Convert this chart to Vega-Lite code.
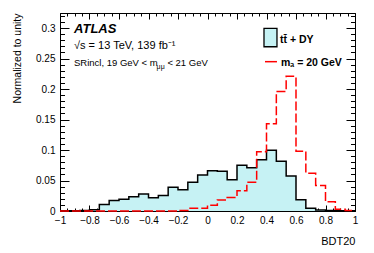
{
  "$schema": "https://vega.github.io/schema/vega-lite/v6.json",
  "width": 295,
  "height": 198,
  "autosize": {"type": "none"},
  "padding": {"left": 60, "top": 13, "right": 19, "bottom": 42},
  "background": "white",
  "layer": [
    {
      "data": {"name": "hist"},
      "mark": {"type": "area", "interpolate": "step-after", "fill": "#c6f2f4"},
      "encoding": {
        "x": {"field": "x", "type": "quantitative",
          "scale": {"domain": [-1, 1], "nice": false, "zero": false},
          "axis": {"orient": "bottom", "values": [-1,-0.8,-0.6,-0.4,-0.2,0,0.2,0.4,0.6,0.8,1], "format": "~g", "tickSize": -6, "labelPadding": 10, "title": "BDT20", "titleAnchor": "end", "titleAlign": "right", "titleX": 295, "titleY": 33, "titleBaseline": "alphabetic"}},
        "y": {"field": "b", "type": "quantitative",
          "scale": {"domain": [0, 0.3246], "nice": false, "zero": true},
          "axis": {"orient": "left", "values": [0,0.05,0.1,0.15,0.2,0.25,0.3], "format": "~g", "tickSize": -9, "labelPadding": 14, "title": "Normalized to unity", "titleAnchor": "end", "titleAlign": "right", "titleAngle": -90, "titleX": -40, "titleY": 0, "titleBaseline": "alphabetic", "titleFontSize": 10.5}}
      }
    },
    {
      "data": {"name": "hist"},
      "mark": {"type": "line", "interpolate": "step-after", "stroke": "black", "strokeWidth": 1.5},
      "encoding": {
        "x": {"field": "x", "type": "quantitative",
          "scale": {"domain": [-1, 1], "nice": false, "zero": false},
          "axis": {"orient": "bottom", "values": [-1,-0.95,-0.9,-0.85,-0.8,-0.75,-0.7,-0.65,-0.6,-0.55,-0.5,-0.45,-0.4,-0.35,-0.3,-0.25,-0.2,-0.15,-0.1,-0.05,0,0.05,0.1,0.15,0.2,0.25,0.3,0.35,0.4,0.45,0.5,0.55,0.6,0.65,0.7,0.75,0.8,0.85,0.9,0.95,1], "tickSize": -3, "labels": false, "title": null}},
        "y": {"field": "b", "type": "quantitative",
          "scale": {"domain": [0, 0.3246], "nice": false, "zero": true},
          "axis": {"orient": "left", "values": [0,0.01,0.02,0.03,0.04,0.05,0.06,0.07,0.08,0.09,0.1,0.11,0.12,0.13,0.14,0.15,0.16,0.17,0.18,0.19,0.2,0.21,0.22,0.23,0.24,0.25,0.26,0.27,0.28,0.29,0.3,0.31,0.32], "tickSize": -4.5, "labels": false, "title": null}}
      }
    },
    {
      "data": {"name": "hist"},
      "mark": {"type": "line", "interpolate": "step-after", "stroke": "#ff0000", "strokeWidth": 1.5, "strokeDash": [9, 3]},
      "encoding": {
        "x": {"field": "x", "type": "quantitative",
          "scale": {"domain": [-1, 1], "nice": false, "zero": false},
          "axis": {"orient": "top", "values": [-1,-0.8,-0.6,-0.4,-0.2,0,0.2,0.4,0.6,0.8,1], "tickSize": -6, "labels": false, "title": null}},
        "y": {"field": "s", "type": "quantitative",
          "scale": {"domain": [0, 0.3246], "nice": false, "zero": true},
          "axis": {"orient": "right", "values": [0,0.05,0.1,0.15,0.2,0.25,0.3], "tickSize": -9, "labels": false, "title": null}}
      }
    },
    {
      "data": {"values": [{}]},
      "mark": {"type": "rect", "fill": "#c6f2f4", "stroke": "black", "strokeWidth": 1.3},
      "encoding": {
        "x": {"datum": 0.383, "type": "quantitative",
          "scale": {"domain": [-1, 1], "nice": false, "zero": false},
          "axis": {"orient": "top", "values": [-1,-0.95,-0.9,-0.85,-0.8,-0.75,-0.7,-0.65,-0.6,-0.55,-0.5,-0.45,-0.4,-0.35,-0.3,-0.25,-0.2,-0.15,-0.1,-0.05,0,0.05,0.1,0.15,0.2,0.25,0.3,0.35,0.4,0.45,0.5,0.55,0.6,0.65,0.7,0.75,0.8,0.85,0.9,0.95,1], "tickSize": -3, "labels": false, "title": null}},
        "x2": {"datum": 0.471},
        "y": {"datum": 0.2995, "type": "quantitative",
          "scale": {"domain": [0, 0.3246], "nice": false, "zero": true},
          "axis": {"orient": "right", "values": [0,0.01,0.02,0.03,0.04,0.05,0.06,0.07,0.08,0.09,0.1,0.11,0.12,0.13,0.14,0.15,0.16,0.17,0.18,0.19,0.2,0.21,0.22,0.23,0.24,0.25,0.26,0.27,0.28,0.29,0.3,0.31,0.32], "tickSize": -4.5, "labels": false, "title": null}},
        "y2": {"datum": 0.2693}
      }
    },
    {
      "data": {"values": [{}]},
      "mark": {"type": "rule", "stroke": "#ff0000", "strokeWidth": 1.5},
      "encoding": {
        "x": {"datum": 0.39, "type": "quantitative", "axis": null},
        "x2": {"datum": 0.471},
        "y": {"datum": 0.2448, "type": "quantitative", "axis": null}
      }
    },
    {
      "data": {"values": [{}]},
      "mark": {"type": "text", "text": "tt̄ + DY", "fontWeight": "bold", "fontSize": 10.5, "align": "left", "baseline": "alphabetic", "font": "Liberation Sans"},
      "encoding": {
        "x": {"datum": 0.4915, "type": "quantitative", "axis": null},
        "y": {"datum": 0.2754, "type": "quantitative", "axis": null}
      }
    },
    {
      "data": {"values": [{}]},
      "mark": {"type": "text", "text": "mₐ = 20 GeV", "fontWeight": "bold", "fontSize": 10.5, "align": "left", "baseline": "alphabetic", "font": "Liberation Sans"},
      "encoding": {
        "x": {"datum": 0.498, "type": "quantitative", "axis": null},
        "y": {"datum": 0.2385, "type": "quantitative", "axis": null}
      }
    },
    {
      "data": {"values": [{}]},
      "mark": {"type": "text", "text": "ATLAS", "fontWeight": "bold", "fontStyle": "italic", "fontSize": 13, "align": "left", "baseline": "alphabetic", "font": "Liberation Sans"},
      "encoding": {
        "x": {"datum": -0.905, "type": "quantitative", "axis": null},
        "y": {"datum": 0.2918, "type": "quantitative", "axis": null}
      }
    },
    {
      "data": {"values": [{}]},
      "mark": {"type": "text", "text": "√s = 13 TeV, 139 fb⁻¹", "fontSize": 11, "align": "left", "baseline": "alphabetic", "font": "Liberation Sans"},
      "encoding": {
        "x": {"datum": -0.905, "type": "quantitative", "axis": null},
        "y": {"datum": 0.2656, "type": "quantitative", "axis": null}
      }
    },
    {
      "data": {"values": [{}]},
      "mark": {"type": "text", "text": "SRincl, 19 GeV < m", "fontSize": 9.5, "align": "left", "baseline": "alphabetic", "font": "Liberation Sans"},
      "encoding": {
        "x": {"datum": -0.905, "type": "quantitative", "axis": null},
        "y": {"datum": 0.2369, "type": "quantitative", "axis": null}
      }
    },
    {
      "data": {"values": [{}]},
      "mark": {"type": "text", "text": "μμ", "fontSize": 7, "align": "left", "baseline": "alphabetic", "font": "Liberation Sans"},
      "encoding": {
        "x": {"datum": -0.345, "type": "quantitative", "axis": null},
        "y": {"datum": 0.2335, "type": "quantitative", "axis": null}
      }
    },
    {
      "data": {"values": [{}]},
      "mark": {"type": "text", "text": "< 21 GeV", "fontSize": 9.5, "align": "left", "baseline": "alphabetic", "font": "Liberation Sans"},
      "encoding": {
        "x": {"datum": -0.272, "type": "quantitative", "axis": null},
        "y": {"datum": 0.2369, "type": "quantitative", "axis": null}
      }
    }
  ],
  "datasets": {
    "hist": [
      {"x": -1, "b": 0.0003, "s": 0},
      {"x": -0.9333, "b": 0.0005, "s": 0},
      {"x": -0.8667, "b": 0.001, "s": 0},
      {"x": -0.8, "b": 0.002, "s": 0},
      {"x": -0.7333, "b": 0.0106, "s": 0},
      {"x": -0.6667, "b": 0.0172, "s": 0},
      {"x": -0.6, "b": 0.0194, "s": 0},
      {"x": -0.5333, "b": 0.0233, "s": 0},
      {"x": -0.4667, "b": 0.0278, "s": 0},
      {"x": -0.4, "b": 0.0217, "s": 0},
      {"x": -0.3333, "b": 0.0256, "s": 0},
      {"x": -0.2667, "b": 0.0389, "s": 0},
      {"x": -0.2, "b": 0.035, "s": 0.001},
      {"x": -0.1333, "b": 0.0472, "s": 0.0045},
      {"x": -0.0667, "b": 0.0589, "s": 0.0045},
      {"x": 0, "b": 0.066, "s": 0.0095},
      {"x": 0.0667, "b": 0.065, "s": 0.018},
      {"x": 0.1333, "b": 0.0511, "s": 0.022},
      {"x": 0.2, "b": 0.075, "s": 0.033},
      {"x": 0.2667, "b": 0.0711, "s": 0.047},
      {"x": 0.3333, "b": 0.0839, "s": 0.097},
      {"x": 0.4, "b": 0.0994, "s": 0.143},
      {"x": 0.4667, "b": 0.0817, "s": 0.196},
      {"x": 0.5333, "b": 0.0572, "s": 0.221},
      {"x": 0.6, "b": 0.0183, "s": 0.098},
      {"x": 0.6667, "b": 0.0044, "s": 0.062},
      {"x": 0.7333, "b": 0.0017, "s": 0.042},
      {"x": 0.8, "b": 0.0008, "s": 0.015},
      {"x": 0.8667, "b": 0.0005, "s": 0.003},
      {"x": 0.9333, "b": 0.0003, "s": 0.001},
      {"x": 1, "b": 0.0003, "s": 0.001}
    ]
  },
  "resolve": {"axis": {"x": "independent", "y": "independent"}},
  "config": {
    "font": "Liberation Sans",
    "view": {"stroke": "black", "strokeWidth": 1},
    "axis": {"domain": false, "grid": false, "tickColor": "black", "tickWidth": 1, "labelColor": "black", "titleColor": "black", "labelFont": "Liberation Sans", "titleFont": "Liberation Sans", "titleFontWeight": "normal", "labelFontSize": 10, "titleFontSize": 11, "labelOverlap": false, "labelFlush": false, "labelBound": false}
  }
}
